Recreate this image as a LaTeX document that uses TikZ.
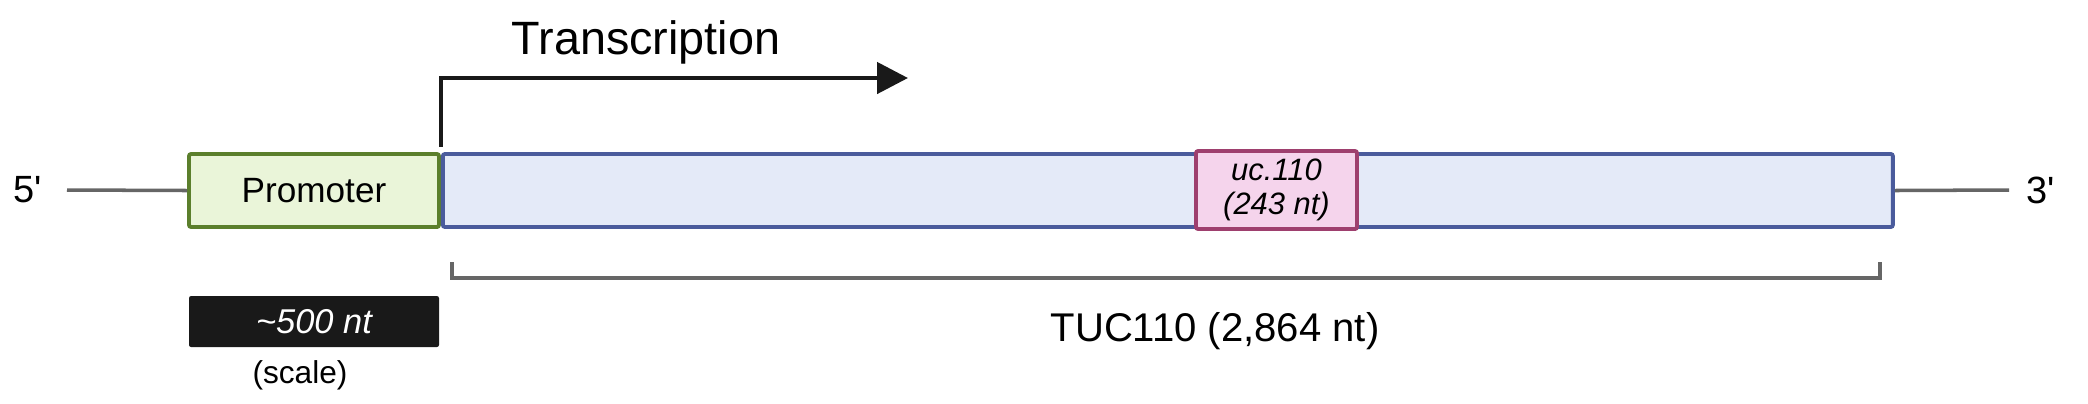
\documentclass[tikz,border=0pt]{standalone}
\usepackage{fontspec}
\setmainfont{Liberation Sans}
\usetikzlibrary{arrows.meta,positioning}
\usepackage{xcolor}
\definecolor{promfill}{HTML}{EAF5D9}
\definecolor{promdraw}{HTML}{5B7F2C}
\definecolor{genefill}{HTML}{E4EAF8}
\definecolor{genedraw}{HTML}{4A5B9C}
\definecolor{ucfill}{HTML}{F5D4EC}
\definecolor{ucdraw}{HTML}{9E3F6E}
\definecolor{strand}{HTML}{666666}

\begin{document}
\begin{tikzpicture}[
  x=0.1mm,
  y=-0.1mm,
  font=\rmfamily,
  >={Triangle[length=3.1mm,width=3.1mm]},
  region/.style={
    line width=1.1pt,
    rounded corners=0.6pt,
    inner sep=0pt,
    align=center
  },
  promoter/.style={
    region,
    draw=promdraw,
    fill=promfill,
    minimum width=25mm,
    minimum height=7.3mm,
    font=\rmfamily\fontsize{10}{12}\selectfont
  },
  gene/.style={
    region,
    draw=genedraw,
    fill=genefill,
    minimum width=145mm,
    minimum height=7.3mm
  },
  smallrna/.style={
    region,
    draw=ucdraw,
    fill=ucfill,
    minimum width=16.1mm,
    minimum height=7.8mm,
    font=\rmfamily\itshape\fontsize{8.8}{9.5}\selectfont
  },
  scalebar/.style={
    fill=black!90,
    rounded corners=0.6pt,
    text=white,
    inner sep=0pt,
    minimum width=25mm,
    minimum height=5.1mm,
    font=\rmfamily\itshape\fontsize{9.8}{11}\selectfont
  },
  endlabel/.style={font=\rmfamily\fontsize{10.8}{13}\selectfont,inner sep=1pt},
  strandline/.style={draw=strand,line width=1pt},
  tss/.style={->,line width=1.35pt,draw=black!90}
]
  \useasboundingbox (0,0) rectangle (2088,403);

  % Gene model: promoter followed by the transcribed unit.
  \node[promoter] (promoter) at (314,190.5) {Promoter};
  \node[gene,anchor=west] (gene) at (promoter.east) {};
  \node[smallrna] (uc) at (1276.5,190) {uc.110\\(243 nt)};

  \node[endlabel] (five) at (28,190) {5\textquotesingle};
  \node[endlabel] (three) at (2041,190) {3\textquotesingle};
  \coordinate (fiveend) at (67,190);
  \coordinate (threeend) at (2009,190);
  \draw[strandline] (fiveend) -- (promoter.west);
  \draw[strandline] (gene.east) -- (threeend);

  % Transcription start site.
  \coordinate (tsstip) at (908,78);
  \draw[tss] ([yshift=1.5pt]promoter.north east) |- (tsstip);
  \node[font=\rmfamily\fontsize{13.3}{15}\selectfont,anchor=base] (transcription) at (646,54) {Transcription};

  % Length of the transcribed unit.
  \coordinate (bracketleft) at (452,262);
  \coordinate (bracketright) at (1880,262);
  \draw[strandline] (bracketleft) -- ++(0,16) -| (bracketright);
  \node[font=\rmfamily\fontsize{11.4}{13}\selectfont,anchor=base] (tuclabel) at (1215,341) {TUC110 (2,864 nt)};

  % Scale bar.
  \node[scalebar] (scale) at (314,321.5) {\textasciitilde500 nt};
  \node[font=\rmfamily\fontsize{9}{11}\selectfont] (scaletext) at (300,375) {(scale)};
\end{tikzpicture}
\end{document}
